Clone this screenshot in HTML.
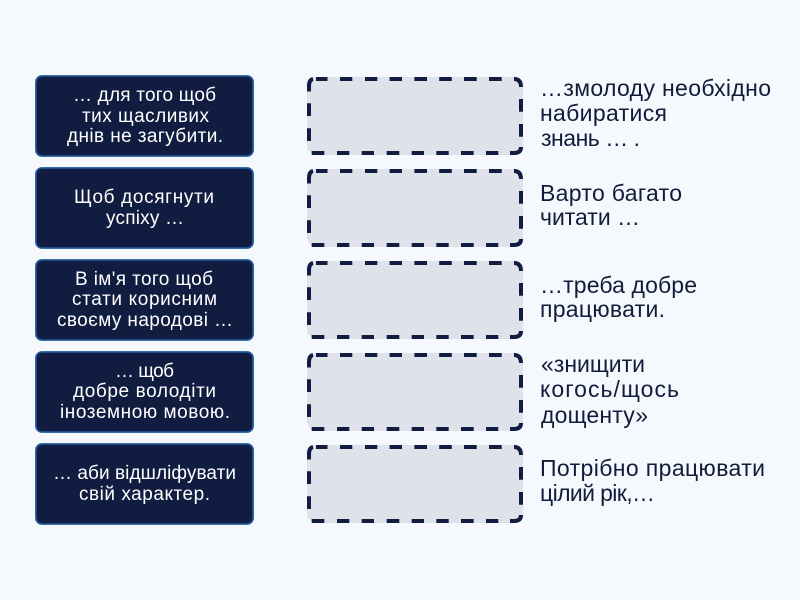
<!DOCTYPE html>
<html><head><meta charset="utf-8"><style>
html,body{margin:0;padding:0;background:#f5f8fd}
svg{display:block}
text{font-family:"Liberation Sans",sans-serif}
.l{font-size:19px;fill:#fff}
.r{font-size:23px;fill:#101c3a}
.b{fill:#101c40;stroke:#1f5596;stroke-width:1.8}
.d{fill:#dfe2ea;stroke:none}
.s{fill:none;stroke:#101c40;stroke-width:4}
</style></head><body>
<svg width="800" height="600" viewBox="0 0 800 600" xmlns="http://www.w3.org/2000/svg">
<defs>
<g id="slot">
<rect class="d" x="307" y="77" width="216" height="78" rx="10"/>
<path class="s" d="M309 91.5V86Q309 80 313 79M316 79H327.5M340 79H352.3M365 79H377.3M389.6 79H402M414.4 79H427M439.2 79H451.8M464 79H476.7M489 79H501.7M514 79Q521 79 521 87M521 99V111.7M521 124V136.7M521 147Q521 153 514 153H510M498.3 153H486M473.7 153H461M448.7 153H436.3M424 153H411.7M399.3 153H386.7M374 153H361.7M349.3 153H337M324.3 153H311.7M309 141V128.3M309 116V103.3"/>
</g>
</defs>
<rect width="800" height="600" fill="#f5f8fd"/>
<rect class="b" x="36" y="76" width="217" height="80" rx="6"/>
<rect class="b" x="36" y="168" width="217" height="80" rx="6"/>
<rect class="b" x="36" y="260" width="217" height="80" rx="6"/>
<rect class="b" x="36" y="352" width="217" height="80" rx="6"/>
<rect class="b" x="36" y="444" width="217" height="80" rx="6"/>
<use href="#slot"/>
<use href="#slot" y="92"/>
<use href="#slot" y="184"/>
<use href="#slot" y="276"/>
<use href="#slot" y="368"/>
<text class="l" x="73" y="101" textLength="143">… для того щоб</text>
<text class="l" x="82" y="122" textLength="127">тих щасливих</text>
<text class="l" x="67" y="142" textLength="156">днів не загубити.</text>
<text class="l" x="74" y="203" textLength="140">Щоб досягнути</text>
<text class="l" x="106" y="224" textLength="78">успіху …</text>
<text class="l" x="75" y="285" textLength="138">В ім'я того щоб</text>
<text class="l" x="72" y="305" textLength="145">стати корисним</text>
<text class="l" x="57" y="326" textLength="176">своєму народові …</text>
<text class="l" x="115" y="377" textLength="59">… щоб</text>
<text class="l" x="73" y="397" textLength="143">добре володіти</text>
<text class="l" x="60" y="418" textLength="170">іноземною мовою.</text>
<text class="l" x="53" y="479" textLength="183">… аби відшліфувати</text>
<text class="l" x="79" y="500" textLength="131">свій характер.</text>
<text class="r" x="540" y="96" textLength="231">…змолоду необхідно</text>
<text class="r" x="540" y="121" textLength="127">набиратися</text>
<text class="r" x="541" y="146" textLength="99">знань … .</text>
<text class="r" x="540" y="201" textLength="142">Варто багато</text>
<text class="r" x="540" y="225" textLength="100">читати …</text>
<text class="r" x="540" y="293" textLength="157">…треба добре</text>
<text class="r" x="540" y="317" textLength="125">працювати.</text>
<text class="r" x="541" y="372" textLength="104">«знищити</text>
<text class="r" x="540" y="397" textLength="139">когось/щось</text>
<text class="r" x="541" y="423" textLength="107">дощенту»</text>
<text class="r" x="540" y="476" textLength="225">Потрібно працювати</text>
<text class="r" x="540" y="501" textLength="115">цілий рік,…</text>
</svg>
</body></html>
